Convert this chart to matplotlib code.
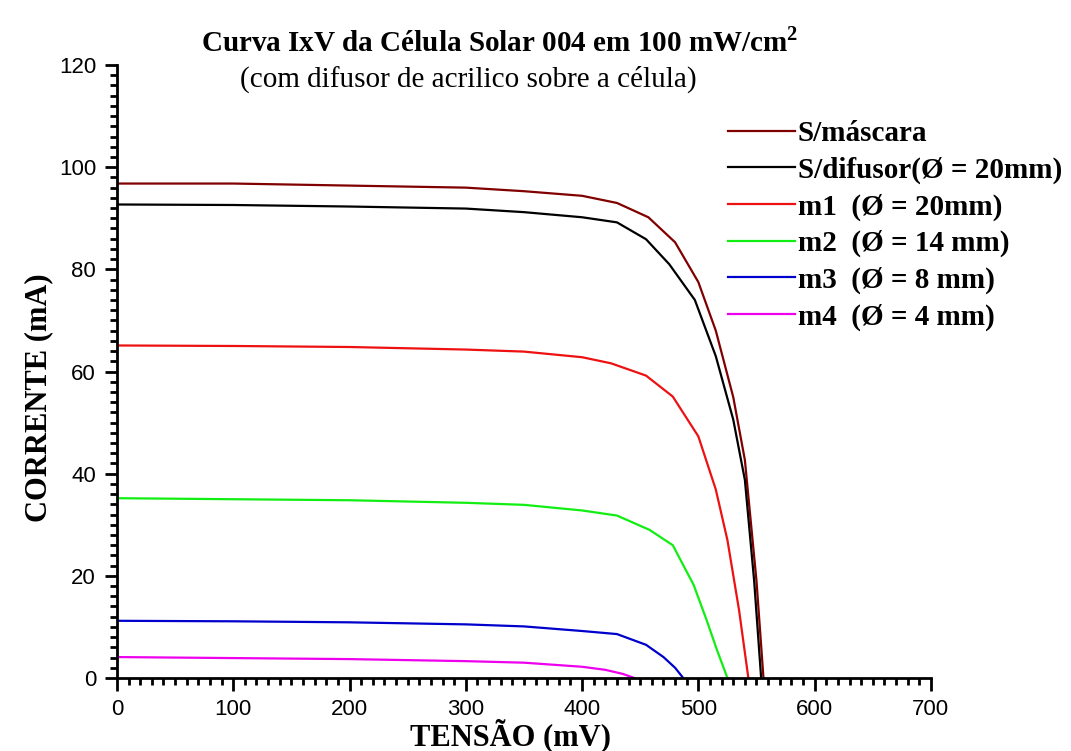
import matplotlib
matplotlib.use('Agg')
from matplotlib import pyplot as plt
from matplotlib.ticker import MultipleLocator

# Tensão (mV) e corrente (mA)
v_mascara = [0, 100, 200, 300, 350, 400, 430, 457, 480, 500, 515, 530, 540, 550, 556]
i_mascara = [96.8, 96.8, 96.4, 96.0, 95.3, 94.4, 93.0, 90.2, 85.3, 77.5, 68.0, 55.0, 42.7, 19.0, 0]

v_difusor = [0, 100, 200, 300, 350, 400, 430, 455, 475, 497, 515, 530, 540, 548, 554]
i_difusor = [92.7, 92.6, 92.3, 91.9, 91.2, 90.2, 89.2, 85.9, 81.0, 74.0, 63.0, 50.6, 38.8, 19.0, 0]

v_m1 = [0, 100, 200, 300, 350, 400, 425, 455, 478, 500, 515, 525, 535, 543]
i_m1 = [65.1, 65.0, 64.8, 64.3, 63.9, 62.8, 61.6, 59.2, 55.1, 47.3, 36.9, 27.0, 13.3, 0]

v_m2 = [0, 100, 200, 300, 350, 400, 430, 458, 478, 496, 507, 516, 525]
i_m2 = [35.2, 35.0, 34.8, 34.3, 33.9, 32.8, 31.8, 29.0, 26.0, 18.2, 11.4, 5.5, 0]

v_m3 = [0, 100, 200, 300, 350, 400, 430, 455, 470, 480, 487]
i_m3 = [11.2, 11.1, 10.9, 10.5, 10.1, 9.2, 8.6, 6.5, 4.1, 2.0, 0]

v_m4 = [0, 100, 200, 300, 350, 400, 420, 435, 445]
i_m4 = [4.1, 3.9, 3.7, 3.3, 3.0, 2.2, 1.6, 0.8, 0]

rotulos = ['S/máscara', 'S/difusor(Ø = 20mm)', 'm1  (Ø = 20mm)',
           'm2  (Ø = 14 mm)', 'm3  (Ø = 8 mm)', 'm4  (Ø = 4 mm)']
cores = ['#800000', 'black', '#ee1111', '#11ee11', '#0000cc', '#ee00ee']

serif = ['Liberation Serif', 'DejaVu Serif']
sans = ['Liberation Sans', 'DejaVu Sans']

plt.rcParams['mathtext.fontset'] = 'custom'
plt.rcParams['mathtext.bf'] = 'Liberation Serif:bold'
plt.rcParams['mathtext.rm'] = 'Liberation Serif'

fig = plt.figure(figsize=(10.71, 7.51), dpi=100)
ax = fig.add_axes([0.1092, 0.0972, 0.7600, 0.8162])

curvas = [(v_mascara, i_mascara), (v_difusor, i_difusor), (v_m1, i_m1),
          (v_m2, i_m2), (v_m3, i_m3), (v_m4, i_m4)]
for (v, i), cor, rot in zip(curvas, cores, rotulos):
    ax.plot(v, i, color=cor, lw=1.6, label=rot)

ax.set_xlim(0, 700)
ax.set_ylim(0, 120)
ax.xaxis.set_major_locator(MultipleLocator(100))
ax.xaxis.set_minor_locator(MultipleLocator(10))
ax.yaxis.set_major_locator(MultipleLocator(20))
ax.yaxis.set_minor_locator(MultipleLocator(2))

for lado in ['top', 'right']:
    ax.spines[lado].set_visible(False)
for lado in ['left', 'bottom']:
    ax.spines[lado].set_linewidth(2)

ax.tick_params(which='major', direction='out', length=9, width=2, pad=6)
ax.tick_params(which='minor', direction='out', length=5, width=2)
for lab in ax.get_xticklabels() + ax.get_yticklabels():
    lab.set_family(sans)
    lab.set_fontsize(16)

ax.set_xlabel('TENSÃO (mV)', family=serif, fontsize=22, fontweight='bold')
ax.set_ylabel('CORRENTE (mA)', family=serif, fontsize=22, fontweight='bold')
ax.xaxis.set_label_coords(0.484, -0.066)
ax.yaxis.set_label_coords(-0.078, 0.458)

fig.text(0.467, 0.943, r'Curva IxV da Célula Solar 004 em 100 mW/cm$^\mathbf{2}$',
         family=serif, fontsize=21, fontweight='bold', ha='center', va='center')
fig.text(0.437, 0.895, '(com difusor de acrilico sobre a célula)',
         family=serif, fontsize=21, ha='center', va='center')

leg = ax.legend(loc='upper left', bbox_to_anchor=(0.736, 0.929), frameon=False,
                prop={'family': serif, 'size': 21, 'weight': 'bold'},
                handlelength=2.3, handletextpad=0.1, labelspacing=0.32, borderaxespad=0)

plt.savefig('out.png', dpi=100)
